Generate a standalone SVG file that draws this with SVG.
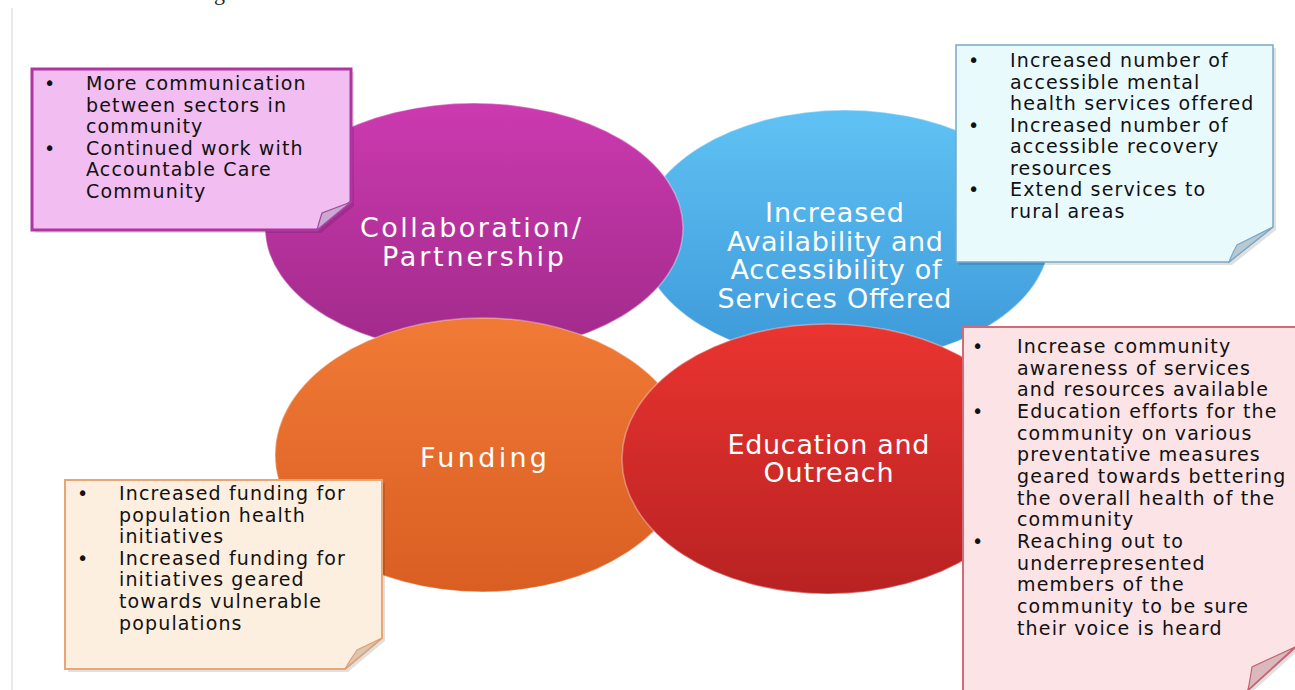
<svg xmlns="http://www.w3.org/2000/svg" width="1295" height="690" viewBox="0 0 1295 690">
<defs>
<linearGradient id="gPurple" x1="0" y1="0" x2="0" y2="1"><stop offset="0" stop-color="#cc3ab0"/><stop offset="1" stop-color="#a02a8a"/></linearGradient>
<linearGradient id="gBlue" x1="0" y1="0" x2="0" y2="1"><stop offset="0" stop-color="#60c2f4"/><stop offset="1" stop-color="#3c98d8"/></linearGradient>
<linearGradient id="gOrange" x1="0" y1="0" x2="0" y2="1"><stop offset="0" stop-color="#f07a36"/><stop offset="1" stop-color="#da5e22"/></linearGradient>
<linearGradient id="gRed" x1="0" y1="0" x2="0" y2="1"><stop offset="0" stop-color="#ea3430"/><stop offset="1" stop-color="#b82222"/></linearGradient>
</defs>
<style>
.ell{stroke:#ffffff;stroke-opacity:0.35;stroke-width:1.5}
.lbl{font-family:"DejaVu Sans","Liberation Sans",sans-serif;font-size:27px;fill:#ffffff;text-anchor:middle}
.box{font-family:"DejaVu Sans","Liberation Sans",sans-serif;font-size:19px;letter-spacing:1.15px;fill:#111111}
.shadow{fill:#000;opacity:0.12}
</style>
<rect width="1295" height="690" fill="#ffffff"/>
<line x1="12" y1="8" x2="12" y2="690" stroke="#e2e2e2" stroke-width="1.5"/>
<text x="214" y="0" font-family="Liberation Serif" font-size="22" fill="#222">g</text>

<g id="connectors"></g>

<g id="node-availability">
<ellipse class="ell" cx="845" cy="236" rx="205" ry="126" fill="url(#gBlue)"/>
<text class="lbl" x="834.5" y="222" textLength="139" lengthAdjust="spacing">Increased</text>
<text class="lbl" x="835" y="250.5" textLength="216" lengthAdjust="spacing">Availability and</text>
<text class="lbl" x="836" y="279" textLength="211" lengthAdjust="spacing">Accessibility of</text>
<text class="lbl" x="834.5" y="308" textLength="234" lengthAdjust="spacing">Services Offered</text>
</g>

<g id="node-collaboration">
<ellipse class="ell" cx="474" cy="228" rx="209" ry="125" fill="url(#gPurple)"/>
<text class="lbl" x="470.5" y="237" textLength="221" lengthAdjust="spacing">Collaboration/</text>
<text class="lbl" x="473" y="265.5" textLength="182" lengthAdjust="spacing">Partnership</text>
</g>

<g id="node-funding">
<ellipse class="ell" cx="482" cy="455" rx="207" ry="137" fill="url(#gOrange)"/>
<text class="lbl" x="483.5" y="467" textLength="127" lengthAdjust="spacing">Funding</text>
</g>

<g id="node-education">
<ellipse class="ell" cx="828" cy="459" rx="206" ry="135" fill="url(#gRed)"/>
<text class="lbl" x="828.5" y="453.5" textLength="202" lengthAdjust="spacing">Education and</text>
<text class="lbl" x="828.5" y="482" textLength="130" lengthAdjust="spacing">Outreach</text>
</g>

<g id="note-collaboration">
<path class="shadow" d="M35,72 H354 V206 L321,233 H35 Z"/>
<path d="M32,69 H351 V202 L317,230 H32 Z" fill="#f2bdf0" stroke="#b034a2" stroke-width="3"/>
<path d="M351,202 L322,213 Q319,222 317,230 Z" fill="#c9a8d2" stroke="#a04aa0" stroke-width="1.2"/>
<text class="box">
<tspan x="44" y="90">•</tspan><tspan x="86" y="90">More communication</tspan>
<tspan x="86" y="111.5">between sectors in</tspan>
<tspan x="86" y="133">community</tspan>
<tspan x="44" y="154.5">•</tspan><tspan x="86" y="154.5">Continued work with</tspan>
<tspan x="86" y="176">Accountable Care</tspan>
<tspan x="86" y="197.5">Community</tspan>
</text>
</g>

<g id="note-availability">
<path class="shadow" d="M959,48 H1276 V230 L1232,265 H959 Z"/>
<path d="M956,45 H1273 V227 L1229,262 H956 Z" fill="#e9fafd" stroke="#78a8c8" stroke-width="1.5"/>
<path d="M1273,227 L1237,245 Q1232,254 1229,262 Z" fill="#b9c9d2" stroke="#78a8c8" stroke-width="1.2"/>
<text class="box">
<tspan x="968" y="67">•</tspan><tspan x="1010" y="67">Increased number of</tspan>
<tspan x="1010" y="88.5">accessible mental</tspan>
<tspan x="1010" y="110">health services offered</tspan>
<tspan x="968" y="131.5">•</tspan><tspan x="1010" y="131.5">Increased number of</tspan>
<tspan x="1010" y="153">accessible recovery</tspan>
<tspan x="1010" y="174.5">resources</tspan>
<tspan x="968" y="196">•</tspan><tspan x="1010" y="196">Extend services to</tspan>
<tspan x="1010" y="217.5">rural areas</tspan>
</text>
</g>

<g id="note-education">
<path class="shadow" d="M966,330 H1303 V646 L1249,695 H966 Z"/>
<path d="M963,327 H1300 V643 L1246,692 H963 Z" fill="#fbe3e6" stroke="#d26a78" stroke-width="2"/>
<path d="M1295,647 L1252,667 Q1250,680 1248,690 Z" fill="#d9b9bd" stroke="#c86070" stroke-width="1.2"/>
<text class="box">
<tspan x="972" y="353">•</tspan><tspan x="1017" y="353">Increase community</tspan>
<tspan x="1017" y="374.6">awareness of services</tspan>
<tspan x="1017" y="396.3">and resources available</tspan>
<tspan x="972" y="418">•</tspan><tspan x="1017" y="418">Education efforts for the</tspan>
<tspan x="1017" y="439.6">community on various</tspan>
<tspan x="1017" y="461.3">preventative measures</tspan>
<tspan x="1017" y="482.9">geared towards bettering</tspan>
<tspan x="1017" y="504.6">the overall health of the</tspan>
<tspan x="1017" y="526.2">community</tspan>
<tspan x="972" y="547.9">•</tspan><tspan x="1017" y="547.9">Reaching out to</tspan>
<tspan x="1017" y="569.5">underrepresented</tspan>
<tspan x="1017" y="591.2">members of the</tspan>
<tspan x="1017" y="612.8">community to be sure</tspan>
<tspan x="1017" y="634.5">their voice is heard</tspan>
</text>
</g>

<g id="note-funding">
<path class="shadow" d="M68,483 H385 V641 L348,672 H68 Z"/>
<path d="M65,480 H382 V638 L345,669 H65 Z" fill="#fdefe0" stroke="#e8a676" stroke-width="2"/>
<path d="M382,638 L357,650 Q350,660 345,669 Z" fill="#d9c6b3" stroke="#e0a070" stroke-width="1.2"/>
<text class="box">
<tspan x="77" y="500">•</tspan><tspan x="119" y="500">Increased funding for</tspan>
<tspan x="119" y="521.6">population health</tspan>
<tspan x="119" y="543.2">initiatives</tspan>
<tspan x="77" y="564.8">•</tspan><tspan x="119" y="564.8">Increased funding for</tspan>
<tspan x="119" y="586.4">initiatives geared</tspan>
<tspan x="119" y="608">towards vulnerable</tspan>
<tspan x="119" y="629.6">populations</tspan>
</text>
</g>
</svg>
